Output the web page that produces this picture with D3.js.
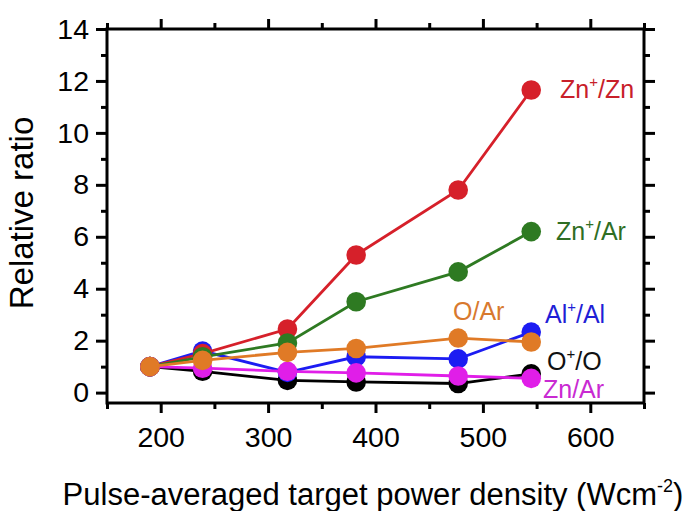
<!DOCTYPE html>
<html>
<head>
<meta charset="utf-8">
<script src="https://cdn.jsdelivr.net/npm/d3@7"></script>
<style>
  html, body { margin: 0; padding: 0; background: #fff; }
  svg { display: block; font-family: 'Liberation Sans', Arial, sans-serif; }
</style>
</head>
<body>
<svg id="chart" width="693" height="511"></svg>
<script>
// power density (W cm^-2)
const powerDensity = [190, 239, 318, 382, 477, 545];

const znIonZn = [1, 1.5, 2.45, 5.3, 7.8, 11.65];
const znIonAr = [1, 1.38, 1.91, 3.5, 4.65, 6.2];
const oAr = [1, 1.24, 1.55, 1.7, 2.1, 1.95];
const alIonAl = [1, 1.6, 0.78, 1.38, 1.3, 2.33];
const oIonO = [1, 0.82, 0.47, 0.41, 0.35, 0.72];
const znAr = [1, 0.94, 0.82, 0.76, 0.64, 0.55];

const xMajorTicks = [200, 300, 400, 500, 600];
const xMinorTicks = [150, 250, 350, 450, 550, 650];
const yMajorTicks = [0, 2, 4, 6, 8, 10, 12, 14];
const yMinorTicks = [1, 3, 5, 7, 9, 11, 13];

// draw order matters: later series sit on top
const series = [
  { key: 'O+/O', values: oIonO, color: '#000000', text: '#111111', base: 'O', sup: '+', rest: '/O', lx: 547, ly: 370 },
  { key: 'Al+/Al', values: alIonAl, color: '#1c1cf2', text: '#1f1fd6', base: 'Al', sup: '+', rest: '/Al', lx: 545, ly: 323 },
  { key: 'Zn+/Zn', values: znIonZn, color: '#d6202a', text: '#c8202a', base: 'Zn', sup: '+', rest: '/Zn', lx: 560, ly: 98 },
  { key: 'Zn+/Ar', values: znIonAr, color: '#2e7a22', text: '#2f6e24', base: 'Zn', sup: '+', rest: '/Ar', lx: 556, ly: 240 },
  { key: 'Zn/Ar', values: znAr, color: '#e01ee8', text: '#c92ad2', base: 'Zn/Ar', sup: '', rest: '', lx: 543, ly: 398 },
  { key: 'O/Ar', values: oAr, color: '#e07a26', text: '#d8792e', base: 'O/Ar', sup: '', rest: '', lx: 453, ly: 320 },
];

const margin = { left: 107, right: 49, top: 29, bottom: 108 };
const width = 693;
const height = 511;

const svg = d3.select('#chart');

const x = d3.scaleLinear().domain([150, 650]).range([margin.left, width - margin.right]);
const y = d3.scaleLinear().domain([-0.4, 14]).range([height - margin.bottom, margin.top]);

const plotW = x.range()[1] - x.range()[0];
const plotH = y.range()[0] - y.range()[1];

function styleAxis(g) {
  g.select('.domain').remove();
  g.selectAll('.tick line').attr('stroke', '#000').attr('stroke-width', 3);
}

// bottom
svg.append('g')
  .attr('transform', `translate(0,${y.range()[0]})`)
  .call(d3.axisBottom(x).tickValues(xMajorTicks).tickSize(10).tickPadding(14).tickFormat(d3.format('d')))
  .call(styleAxis)
  .call((g) => g.selectAll('.tick text').attr('font-size', 28.5).attr('fill', '#000').attr('font-family', 'Liberation Sans, Arial, sans-serif'));
svg.append('g')
  .attr('transform', `translate(0,${y.range()[0]})`)
  .call(d3.axisBottom(x).tickValues(xMinorTicks).tickSize(6).tickFormat(''))
  .call(styleAxis);

// top
svg.append('g')
  .attr('transform', `translate(0,${y.range()[1]})`)
  .call(d3.axisTop(x).tickValues(xMajorTicks).tickSize(10).tickFormat(''))
  .call(styleAxis);
svg.append('g')
  .attr('transform', `translate(0,${y.range()[1]})`)
  .call(d3.axisTop(x).tickValues(xMinorTicks).tickSize(6).tickFormat(''))
  .call(styleAxis);

// left
svg.append('g')
  .attr('transform', `translate(${x.range()[0]},0)`)
  .call(d3.axisLeft(y).tickValues(yMajorTicks).tickSize(11).tickPadding(7).tickFormat(d3.format('d')))
  .call(styleAxis)
  .call((g) => g.selectAll('.tick text').attr('font-size', 28.5).attr('fill', '#000').attr('font-family', 'Liberation Sans, Arial, sans-serif'));
svg.append('g')
  .attr('transform', `translate(${x.range()[0]},0)`)
  .call(d3.axisLeft(y).tickValues(yMinorTicks).tickSize(6).tickFormat(''))
  .call(styleAxis);

// right
svg.append('g')
  .attr('transform', `translate(${x.range()[1]},0)`)
  .call(d3.axisRight(y).tickValues(yMajorTicks).tickSize(11).tickFormat(''))
  .call(styleAxis);
svg.append('g')
  .attr('transform', `translate(${x.range()[1]},0)`)
  .call(d3.axisRight(y).tickValues(yMinorTicks).tickSize(6).tickFormat(''))
  .call(styleAxis);

// frame
svg.append('rect')
  .attr('x', x.range()[0])
  .attr('y', y.range()[1])
  .attr('width', plotW)
  .attr('height', plotH)
  .attr('fill', 'none')
  .attr('stroke', '#000')
  .attr('stroke-width', 3);

const line = d3.line()
  .x((d, i) => x(powerDensity[i]))
  .y((d) => y(d));

const plot = svg.append('g').attr('class', 'series');

series.forEach((s) => {
  const g = plot.append('g').attr('data-series', s.key);
  g.append('path')
    .datum(s.values)
    .attr('d', line)
    .attr('fill', 'none')
    .attr('stroke', s.color)
    .attr('stroke-width', 2.8);
  g.selectAll('circle')
    .data(s.values)
    .join('circle')
    .attr('cx', (d, i) => x(powerDensity[i]))
    .attr('cy', (d) => y(d))
    .attr('r', 9.8)
    .attr('fill', s.color);
});

// series labels
const labels = svg.append('g').attr('font-size', 25);
series.forEach((s) => {
  const t = labels.append('text')
    .attr('x', s.lx)
    .attr('y', s.ly)
    .attr('fill', s.text);
  t.append('tspan').text(s.base);
  if (s.sup) {
    t.append('tspan').attr('dy', -11).attr('font-size', 15).text(s.sup);
    t.append('tspan').attr('dy', 11).text(s.rest);
  }
});

// axis titles
svg.append('text')
  .attr('transform', `translate(33,${(y.range()[0] + y.range()[1]) / 2 - 3}) rotate(-90)`)
  .attr('text-anchor', 'middle')
  .attr('font-size', 33)
  .attr('fill', '#000')
  .text('Relative ratio');

const xTitle = svg.append('text')
  .attr('x', 373)
  .attr('y', 505)
  .attr('text-anchor', 'middle')
  .attr('font-size', 31)
  .attr('fill', '#000');
xTitle.append('tspan').text('Pulse-averaged target power density (Wcm');
xTitle.append('tspan').attr('dy', -13).attr('font-size', 18).text('-2');
xTitle.append('tspan').attr('dy', 13).text(')');
</script>
</body>
</html>
